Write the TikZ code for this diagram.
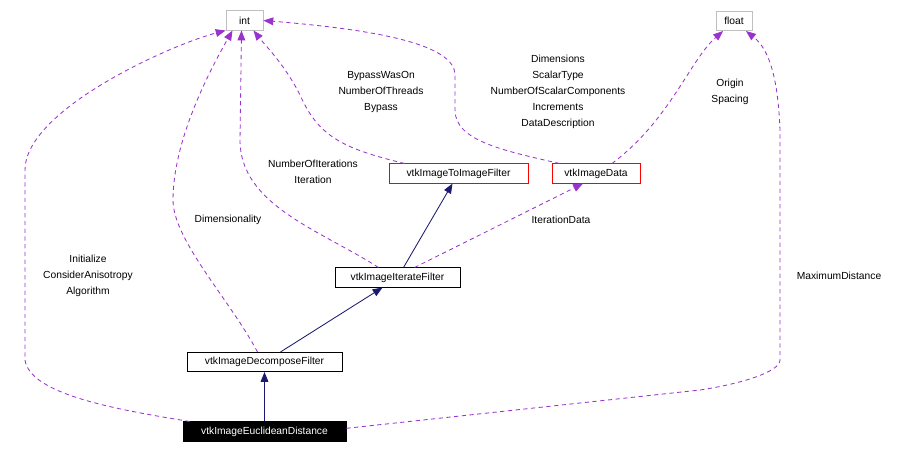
\documentclass[tikz,border=0pt]{standalone}
\usepackage{fontspec}
\setmainfont{Liberation Sans}
\usetikzlibrary{arrows.meta}
\definecolor{figpurple}{HTML}{9A32CD}
\definecolor{fignavy}{HTML}{191970}
\definecolor{figgrey}{HTML}{BFBFBF}
\begin{document}
\begin{tikzpicture}[
  x=0.025cm, y=-0.025cm,
  font=\fontsize{7.3}{11.4}\selectfont,
  cls/.style={draw=black, fill=white, inner sep=0pt, minimum height=0.48cm,
              line width=0.6pt},
  ext/.style={cls, draw=red},
  prim/.style={cls, draw=figgrey},
  focus/.style={cls, fill=black, text=white},
  inh/.style={-{Triangle[length=7pt,width=5.5pt]}, fignavy, line width=0.6pt},
  mbr/.style={-{Triangle[length=7pt,width=5.5pt]}, figpurple, line width=0.6pt,
              dash pattern=on 3pt off 2.5pt},
  lbl/.style={align=center, inner sep=0pt},
]
\useasboundingbox (0,0) rectangle (898,453);
% Types
\node[prim, minimum width=0.925cm] (int) at (244.5,20.5) {int};
\node[prim, minimum width=0.9cm] (float) at (734,21) {float};
% Classes
\node[ext, minimum width=3.475cm] (toimg) at (458.5,173.5) {vtkImageToImageFilter};
\node[ext, minimum width=2.2cm] (imgdata) at (596,173.5) {vtkImageData};
\node[cls, minimum width=3.125cm] (iter) at (397.5,277.5) {vtkImageIterateFilter};
\node[cls, minimum width=3.875cm] (decomp) at (264.5,362) {vtkImageDecomposeFilter};
\node[focus, minimum width=4.075cm] (eucl) at (264.5,431.5) {vtkImageEuclideanDistance};
% Inheritance
\draw[inh] (eucl) -- (decomp);
\draw[inh] ([xshift=0.4cm]decomp.north) -- ([xshift=-0.375cm]iter.south);
\draw[inh] ([xshift=0.15cm]iter.north) -- ([xshift=-0.15cm]toimg.south);
% Members
\draw[mbr] ([xshift=0.175cm]eucl.north west) .. controls (120,410) and (30,395) .. (25,360)
  -- (25,170) .. controls (25,110) and (170,45) .. (int.south west);
\draw[mbr] ([xshift=-0.175cm]decomp.north) .. controls (230,300) and (173,240) .. (173,200)
  .. controls (173,140) and (210,70) .. ([xshift=-0.3cm]int.south);
\draw[mbr] ([xshift=-0.475cm]iter.north) .. controls (320,230) and (240,205) .. (240,140)
  -- ([xshift=-0.075cm]int.south);
\draw[mbr] ([xshift=0.4cm]toimg.north west) .. controls (340,148) and (318,135) .. (300,95)
  .. controls (285,65) and (265,45) .. ([xshift=0.225cm]int.south);
\draw[mbr] ([xshift=0.2cm]imgdata.north west) .. controls (500,150) and (455,140) .. (455,110)
  -- (455,75) .. controls (455,45) and (380,30) .. (int.east);
\draw[mbr] ([xshift=0.425cm]iter.north) -- ([xshift=-0.325cm]imgdata.south);
\draw[mbr] ([xshift=0.4cm]imgdata.north) .. controls (670,120) and (690,60)
  .. ([xshift=-0.275cm]float.south);
\draw[mbr] ([yshift=0.08cm]eucl.east) -- (700,390) .. controls (740,384) and (780,372) .. (780,360)
  -- (780,130) .. controls (778,80) and (770,50) .. ([xshift=0.3cm]float.south);
% Member names
\node[lbl] (l1) at (88,276) {Initialize\\ConsiderAnisotropy\\Algorithm};
\node[lbl] (l2) at (228,220) {Dimensionality};
\node[lbl] (l3) at (313,172) {NumberOfIterations\\Iteration};
\node[lbl] (l4) at (381,92) {BypassWasOn\\NumberOfThreads\\Bypass};
\node[lbl] (l5) at (558,92) {Dimensions\\ScalarType\\NumberOfScalarComponents\\Increments\\DataDescription};
\node[lbl] (l6) at (561,220) {IterationData};
\node[lbl] (l7) at (730,92) {Origin\\Spacing};
\node[lbl] (l8) at (839,276) {MaximumDistance};
\end{tikzpicture}
\end{document}
